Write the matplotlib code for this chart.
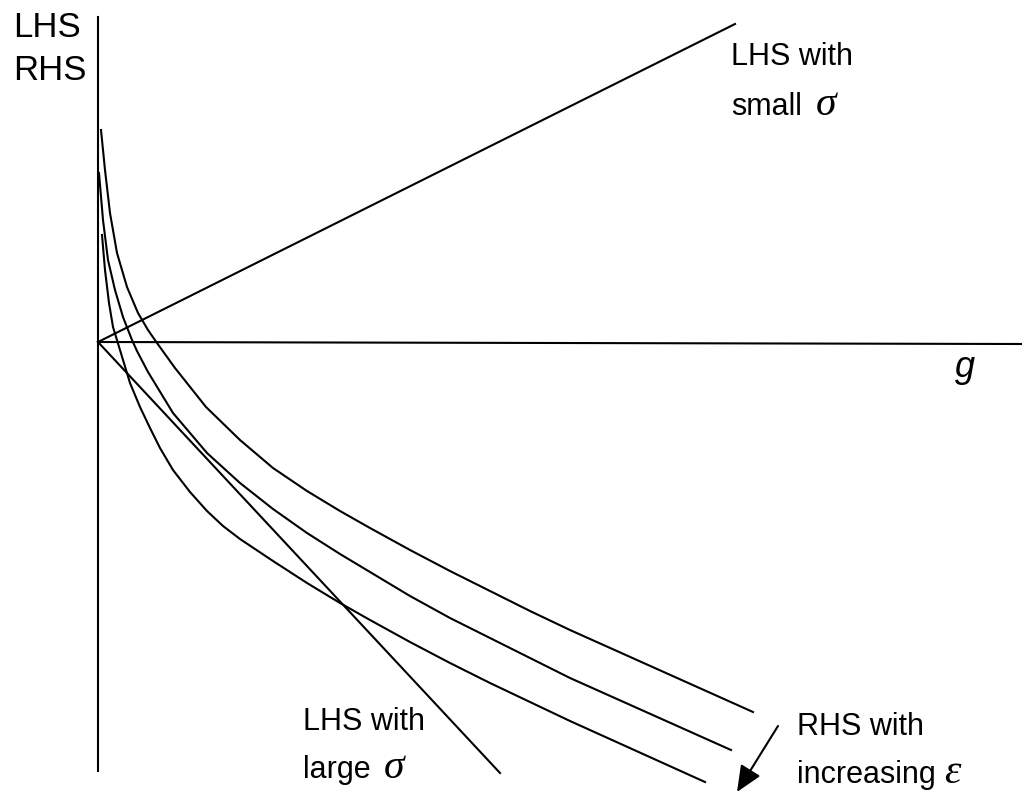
import matplotlib
matplotlib.use('Agg')
import matplotlib.pyplot as plt
from matplotlib.patches import Rectangle

plt.rcParams['font.family'] = 'Liberation Sans'

# diagram is drawn in picture units (x to the right, y downwards)
vaxis_x = [98, 98]
vaxis_y = [17, 771]
haxis_x = [98, 1021]
haxis_y = [342, 344]

lhs_small_x = [98, 735]
lhs_small_y = [342, 24]
lhs_large_x = [98, 500]
lhs_large_y = [342, 773]

# three RHS curves (outer -> inner)
rhs_a_x = [101, 105, 110, 117, 127, 138, 148, 157, 175, 206, 240, 273, 307, 340, 370,
           410, 450, 490, 530, 570, 753]
rhs_a_y = [130, 170, 213, 253, 287, 313, 330, 343, 368, 407, 440, 468, 491, 511, 528,
           550, 571, 591, 611, 630, 712]
rhs_b_x = [99, 103, 108, 115, 123, 132, 137, 148, 173, 207, 240, 273, 307, 340, 370,
           410, 450, 490, 530, 570, 731]
rhs_b_y = [173, 220, 260, 290, 317, 340, 351, 372, 413, 453, 483, 509, 533, 554, 572,
           596, 618, 638, 658, 678, 750]
rhs_c_x = [102, 105, 109, 113, 120, 130, 140, 150, 160, 173, 190, 207, 223, 240, 273,
           307, 340, 370, 410, 450, 490, 530, 570, 705]
rhs_c_y = [235, 270, 303, 327, 350, 383, 407, 428, 448, 470, 492, 511, 526, 539, 561,
           583, 603, 620, 642, 663, 683, 702, 721, 782]

fig = plt.figure(figsize=(10.23, 7.96), dpi=100)
ax = fig.add_axes([0, 0, 1, 1])
ax.set_xlim(0, 1023)
ax.set_ylim(796, 0)
ax.axis('off')

lw = 1.5
ax.plot(vaxis_x, vaxis_y, color='black', lw=lw)
ax.plot(haxis_x, haxis_y, color='black', lw=lw)
ax.plot(lhs_small_x, lhs_small_y, color='black', lw=lw)
ax.plot(lhs_large_x, lhs_large_y, color='black', lw=lw)
for xs, ys in [(rhs_a_x, rhs_a_y), (rhs_b_x, rhs_b_y), (rhs_c_x, rhs_c_y)]:
    ax.plot(xs, ys, color='black', lw=lw, solid_joinstyle='round')

ax.annotate('', xy=(737, 792), xytext=(778, 726),
            arrowprops=dict(arrowstyle='-|>,head_length=0.8,head_width=0.35',
                            mutation_scale=20, lw=lw, color='black',
                            shrinkA=0, shrinkB=0))

clip = Rectangle((0, 0), 1023, 786, transform=ax.transData, fill=False)
labels = [
    (13, 37, 'LHS', 25, 'normal'),
    (13, 80, 'RHS', 25, 'normal'),
    (731, 65, 'LHS with', 22, 'normal'),
    (731, 115, 'small', 22, 'normal'),
    (955, 377, 'g', 26, 'italic'),
    (303, 730, 'LHS with', 22, 'normal'),
    (303, 778, 'large', 22, 'normal'),
    (797, 735, 'RHS with', 22, 'normal'),
    (797, 783, 'increasing', 22, 'normal'),
]
for x, y, s, size, style in labels:
    t = ax.text(x, y, s, fontsize=size, style=style, ha='left', va='baseline')
    t.set_clip_path(clip)

# greek letters in a serif italic, a bit larger than the words
greek = [(816, 115, '\u03c3'), (384, 778, '\u03c3'), (944, 783, '\u03b5')]
for x, y, s in greek:
    t = ax.text(x, y, s, fontsize=30, family='Liberation Serif', style='italic',
                ha='left', va='baseline')
    t.set_clip_path(clip)

plt.savefig('out.png', dpi=100)
